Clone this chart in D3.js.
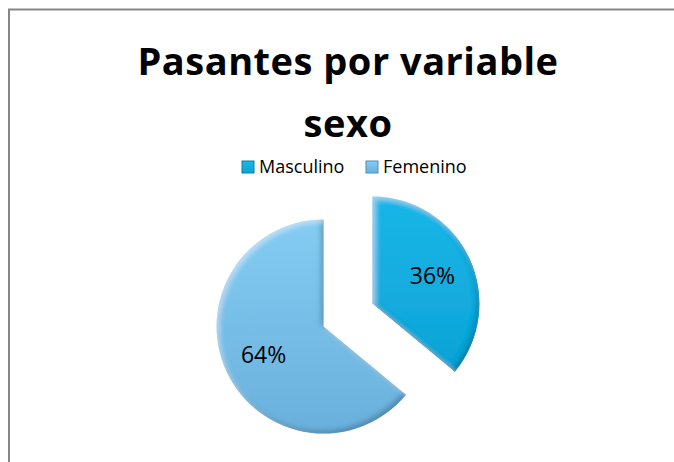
<!DOCTYPE html>
<html>
<head>
<meta charset="utf-8">
<script src="https://cdn.jsdelivr.net/npm/d3@7"></script>
<style>
  body { margin: 0; background: #ffffff; }
  svg { display: block; }
</style>
</head>
<body>
<svg id="chart"></svg>
<script>
// data
var categories = ["Masculino", "Femenino"]
var values = [36, 64]
var labels = ["36%", "64%"]
var titleLines = ["Pasantes por variable", "sexo"]

var dimensions = {
    width: 674,
    height: 462,
    cx: 348,
    cy: 315,
    radius: 107,
    explode: 27
}

var font = "'Open Sans', sans-serif"

var svg = d3.select("#chart")
            .attr("width", dimensions.width)
            .attr("height", dimensions.height)

var defs = svg.append("defs")

// gradients for each slice
var grads = [
    {id: "gMasc", stops: [["0%", "#19b6e8"], ["100%", "#0ea3d6"]]},
    {id: "gFem", stops: [["0%", "#84ccf2"], ["100%", "#69b0dc"]]}
]
grads.forEach(g => {
    var lg = defs.append("linearGradient")
                 .attr("id", g.id)
                 .attr("x1", 0).attr("y1", 0)
                 .attr("x2", 0).attr("y2", 1)
    g.stops.forEach(s => lg.append("stop").attr("offset", s[0]).attr("stop-color", s[1]))
})

// bevel: light inner edge top-left, dark inner edge bottom-right
var bevel = defs.append("filter")
                .attr("id", "bevel")
                .attr("x", "-10%").attr("y", "-10%")
                .attr("width", "120%").attr("height", "120%")
bevel.append("feGaussianBlur").attr("in", "SourceAlpha").attr("stdDeviation", 2.5).attr("result", "blur")
bevel.append("feOffset").attr("in", "blur").attr("dx", -3).attr("dy", -3).attr("result", "offDark")
bevel.append("feComposite").attr("in", "SourceAlpha").attr("in2", "offDark")
     .attr("operator", "arithmetic").attr("k2", 1).attr("k3", -1).attr("result", "edgeDark")
bevel.append("feFlood").attr("flood-color", "#00304a").attr("flood-opacity", 0.45).attr("result", "darkColor")
bevel.append("feComposite").attr("in", "darkColor").attr("in2", "edgeDark").attr("operator", "in").attr("result", "shade")
bevel.append("feOffset").attr("in", "blur").attr("dx", 3).attr("dy", 3).attr("result", "offLight")
bevel.append("feComposite").attr("in", "SourceAlpha").attr("in2", "offLight")
     .attr("operator", "arithmetic").attr("k2", 1).attr("k3", -1).attr("result", "edgeLight")
bevel.append("feFlood").attr("flood-color", "#ffffff").attr("flood-opacity", 0.35).attr("result", "lightColor")
bevel.append("feComposite").attr("in", "lightColor").attr("in2", "edgeLight").attr("operator", "in").attr("result", "shine")
var merge = bevel.append("feMerge")
merge.append("feMergeNode").attr("in", "SourceGraphic")
merge.append("feMergeNode").attr("in", "shade")
merge.append("feMergeNode").attr("in", "shine")

// outer frame (only top and left are visible)
svg.append("path")
   .attr("d", "M9,470 L9,9.5 L680,9.5")
   .attr("fill", "none")
   .attr("stroke", "#868686")
   .attr("stroke-width", 2)

// title
svg.append("g")
   .selectAll("text")
   .data(titleLines)
   .enter()
   .append("text")
   .attr("x", dimensions.cx)
   .attr("y", (d, i) => 75 + i * 62)
   .attr("text-anchor", "middle")
   .style("font-family", font)
   .style("font-weight", "bold")
   .style("font-size", "38px")
   .style("letter-spacing", "0.5px")
   .style("fill", "#000")
   .text(d => d)

// legend
var legendX = d3.scalePoint()
                .domain(categories)
                .range([242, 366])

var legend = svg.append("g")
                .selectAll("g")
                .data(categories)
                .enter()
                .append("g")
                .attr("transform", d => "translate(" + legendX(d) + ",161)")

legend.append("rect")
      .attr("width", 12)
      .attr("height", 12)
      .attr("fill", (d, i) => "url(#" + grads[i].id + ")")
      .attr("stroke", (d, i) => i == 0 ? "#0c7fa8" : "#4f8fb8")
      .attr("stroke-width", 1)

legend.append("text")
      .attr("x", 17)
      .attr("y", 12)
      .style("font-family", font)
      .style("font-size", "18px")
      .style("fill", "#000")
      .text(d => d)

// pie
var pie = d3.pie().sort(null).value(d => d)
var arcs = pie(values)

var arc = d3.arc()
            .innerRadius(0)
            .outerRadius(dimensions.radius)

var slices = svg.append("g")
                .attr("transform", "translate(" + dimensions.cx + "," + dimensions.cy + ")")
                .selectAll("g")
                .data(arcs)
                .enter()
                .append("g")
                .attr("transform", d => {
                    var a = (d.startAngle + d.endAngle) / 2
                    return "translate(" + (Math.sin(a) * dimensions.explode) + "," + (-Math.cos(a) * dimensions.explode) + ")"
                })

slices.append("path")
      .attr("d", arc)
      .attr("fill", (d, i) => "url(#" + grads[i].id + ")")
      .attr("filter", "url(#bevel)")

var labelArc = d3.arc()
                 .innerRadius(dimensions.radius * 0.62)
                 .outerRadius(dimensions.radius * 0.62)

slices.append("text")
      .attr("transform", d => "translate(" + labelArc.centroid(d) + ")")
      .attr("text-anchor", "middle")
      .attr("dy", "0.36em")
      .style("font-family", font)
      .style("font-size", "23px")
      .style("fill", "#000")
      .text((d, i) => labels[i])
</script>
</body>
</html>
